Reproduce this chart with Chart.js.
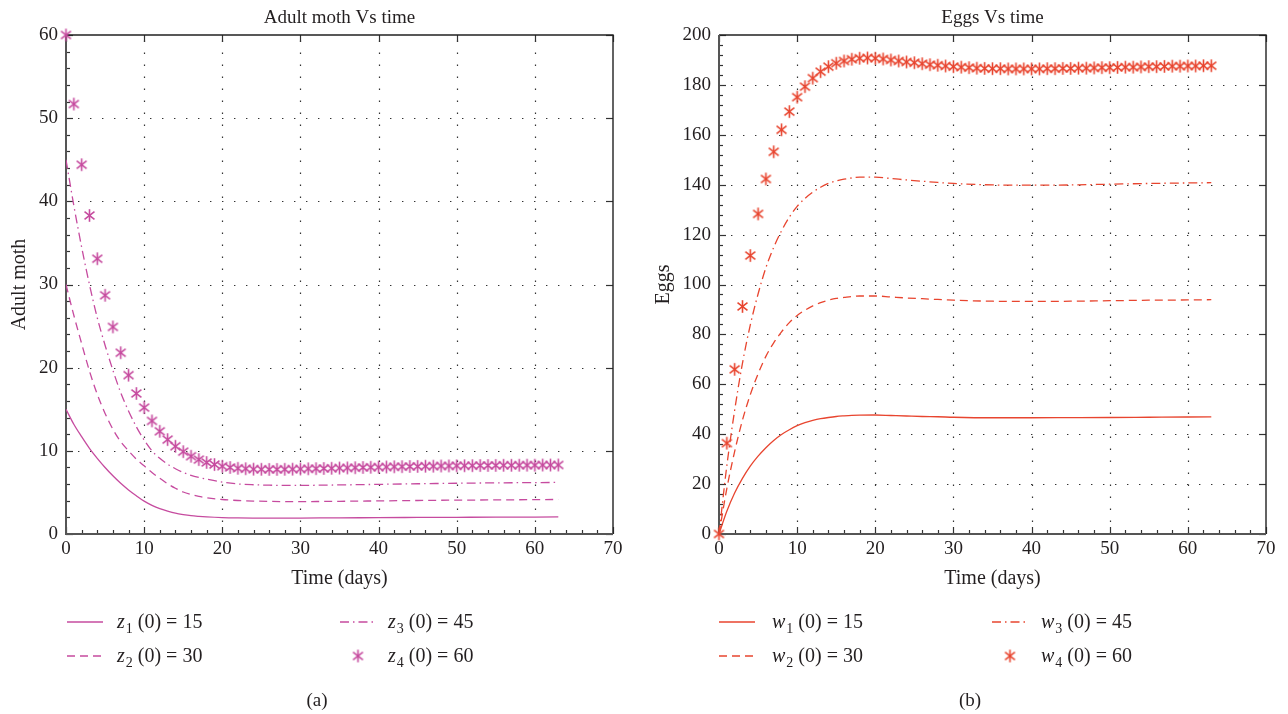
<!DOCTYPE html>
<html>
<head>
<meta charset="utf-8">
<script src="https://cdn.jsdelivr.net/npm/chart.js@4.4.0/dist/chart.umd.min.js"></script>
<style>
  body { margin: 0; background: #fff; width: 1288px; height: 714px; overflow: hidden; }
  .panel { position: absolute; top: 0; width: 644px; height: 714px; }
</style>
</head>
<body>
<div class="panel" style="left:0"><canvas id="mothChart" width="644" height="714"></canvas></div>
<div class="panel" style="left:644px"><canvas id="eggChart" width="644" height="714"></canvas></div>
<script>
// days used for the smooth curves
var lineDays = [0,1,2,3,4,5,6,7,8,9,10,11,12,13,14,15,16,17,18,20,22,24,26,28,30,35,40,45,50,55,60,63];
// days used for the star markers
var starDays = [0,1,2,3,4,5,6,7,8,9,10,11,12,13,14,15,16,17,18,19,20,21,22,23,24,25,26,27,28,29,30,31,
  32,33,34,35,36,37,38,39,40,41,42,43,44,45,46,47,48,49,50,51,52,53,54,55,56,57,58,59,60,61,62,63];

// Adult moth (panel a)
var z1 = [15,13.2,11.7,10.3,9.1,8.0,7.0,6.1,5.3,4.6,3.95,3.45,3.05,2.75,2.5,2.33,2.2,2.12,2.06,1.98,1.94,1.92,1.91,1.91,1.92,1.94,1.97,1.99,2.01,2.03,2.04,2.05];
var z2 = [30,26.3,22.9,19.6,16.8,14.5,12.6,11.1,10.0,9.0,8.2,7.4,6.7,6.05,5.5,5.05,4.75,4.52,4.36,4.15,4.03,3.96,3.92,3.9,3.9,3.93,3.98,4.03,4.07,4.1,4.13,4.15];
var z3 = [45,39.5,34.5,30.0,26.0,22.7,19.7,17.0,14.8,12.9,11.3,10.0,9.1,8.4,7.85,7.4,7.05,6.8,6.6,6.25,6.02,5.92,5.87,5.85,5.85,5.9,5.97,6.04,6.1,6.15,6.18,6.2];
var z4 = [60,51.7,44.4,38.3,33.1,28.7,24.9,21.8,19.1,16.9,
  15.2,13.6,12.35,11.35,10.55,9.9,9.35,8.95,8.6,8.35,
  8.15,8.0,7.9,7.85,7.8,7.78,7.77,7.77,7.78,7.8,
  7.82,7.84,7.86,7.88,7.9,7.93,7.95,7.97,8.0,8.02,
  8.04,8.06,8.08,8.1,8.12,8.13,8.15,8.16,8.18,8.19,
  8.2,8.21,8.22,8.23,8.24,8.25,8.26,8.26,8.27,8.28,
  8.28,8.29,8.29,8.3];

// Eggs (panel b)
var w1 = [0,9.1,16.4,22.3,27.2,31.2,34.6,37.5,39.9,41.8,43.4,44.6,45.5,46.2,46.7,47.1,47.35,47.55,47.65,47.7,47.5,47.3,47.1,47.0,46.8,46.6,46.6,46.65,46.7,46.8,46.9,46.95];
var w2 = [0,18.2,33,45.6,55.8,64.2,71.2,76.6,81,84.7,87.6,89.7,91.4,92.7,93.7,94.4,94.8,95.2,95.4,95.4,95,94.6,94.3,94,93.7,93.3,93.2,93.3,93.5,93.7,93.8,93.9];
var w3 = [0,27.3,49.5,68.4,83.7,96.2,106.7,114.9,121.5,127,131.3,134.5,137,139,140.5,141.5,142.2,142.7,143,143,142.5,141.9,141.4,140.9,140.5,139.9,139.8,139.9,140.2,140.5,140.7,140.8];
var w4 = [0,36.4,66,91.2,111.6,128.3,142.3,153.2,162,169.3,
  175.1,179.3,182.7,185.3,187.3,188.7,189.6,190.3,190.7,190.8,
  190.7,190.4,190.0,189.6,189.2,188.9,188.5,188.1,187.9,187.6,
  187.3,187.1,186.9,186.7,186.6,186.5,186.5,186.4,186.4,186.4,
  186.4,186.4,186.5,186.5,186.6,186.6,186.7,186.7,186.8,186.9,
  186.9,187.0,187.1,187.1,187.2,187.3,187.3,187.4,187.5,187.5,
  187.6,187.6,187.7,187.7];

var initLabels = ['15', '30', '45', '60'];
var xTicks = [0, 10, 20, 30, 40, 50, 60, 70];

var textColor = '#231f20';
var serif = '"Liberation Serif", "DejaVu Serif", serif';
Chart.defaults.font.family = serif;
Chart.defaults.font.size = 19;
Chart.defaults.color = textColor;

function pairs(xs, ys) {
  return xs.map(function (x, i) { return { x: x, y: ys[i] }; });
}

// six-armed asterisk used as marker
function makeStar(color) {
  var c = document.createElement('canvas');
  c.width = 15; c.height = 15;
  var g = c.getContext('2d');
  g.strokeStyle = color;
  g.lineWidth = 1.6;
  [90, 38, 142].forEach(function (deg) {
    var a = deg * Math.PI / 180;
    g.beginPath();
    g.moveTo(7.5 - 6.3 * Math.cos(a), 7.5 - 6.3 * Math.sin(a));
    g.lineTo(7.5 + 6.3 * Math.cos(a), 7.5 + 6.3 * Math.sin(a));
    g.stroke();
  });
  return c;
}

var panelPlugin = {
  id: 'panel',
  beforeDatasetsDraw: function (chart, args, opts) {
    var ctx = chart.ctx, a = chart.chartArea;
    var xs = chart.scales.x, ys = chart.scales.y;
    ctx.save();
    // dotted grid
    ctx.strokeStyle = '#333';
    ctx.lineWidth = 1.2;
    ctx.setLineDash([1.4, 10.6]);
    xs.ticks.forEach(function (t) {
      if (t.value <= xs.min || t.value >= xs.max) return;
      var px = Math.round(xs.getPixelForValue(t.value)) + 0.5;
      ctx.beginPath(); ctx.moveTo(px, a.bottom); ctx.lineTo(px, a.top); ctx.stroke();
    });
    ys.ticks.forEach(function (t) {
      if (t.value <= ys.min || t.value >= ys.max) return;
      var py = Math.round(ys.getPixelForValue(t.value)) + 0.5;
      ctx.beginPath(); ctx.moveTo(a.left, py); ctx.lineTo(a.right, py); ctx.stroke();
    });
    ctx.setLineDash([]);
    // inward tick marks
    ctx.strokeStyle = '#333';
    ctx.lineWidth = 1.2;
    var v, px, py;
    for (v = xs.min; v <= xs.max + 1e-9; v += opts.xMinor) {
      px = Math.round(xs.getPixelForValue(v)) + 0.5;
      var major = Math.abs(v / 10 - Math.round(v / 10)) < 1e-6;
      ctx.beginPath(); ctx.moveTo(px, a.bottom); ctx.lineTo(px, a.bottom - (major ? 7 : 4)); ctx.stroke();
      if (major) { ctx.beginPath(); ctx.moveTo(px, a.top); ctx.lineTo(px, a.top + 7); ctx.stroke(); }
    }
    for (v = ys.min; v <= ys.max + 1e-9; v += opts.yMinor) {
      py = Math.round(ys.getPixelForValue(v)) + 0.5;
      var majorY = Math.abs(v / opts.yStep - Math.round(v / opts.yStep)) < 1e-6;
      ctx.beginPath(); ctx.moveTo(a.left, py); ctx.lineTo(a.left + (majorY ? 7 : 4), py); ctx.stroke();
      if (majorY) { ctx.beginPath(); ctx.moveTo(a.right, py); ctx.lineTo(a.right - 7, py); ctx.stroke(); }
    }
    // frame
    ctx.strokeStyle = '#222';
    ctx.lineWidth = 1.4;
    ctx.beginPath();
    ctx.moveTo(a.left, a.top); ctx.lineTo(a.right, a.top); ctx.lineTo(a.right, a.bottom);
    ctx.stroke();
    ctx.strokeStyle = '#555';
    ctx.lineWidth = 2;
    ctx.beginPath();
    ctx.moveTo(a.left, a.top); ctx.lineTo(a.left, a.bottom); ctx.lineTo(a.right, a.bottom);
    ctx.stroke();
    ctx.restore();
  },
  afterDraw: function (chart, args, opts) {
    var ctx = chart.ctx, a = chart.chartArea;
    ctx.save();
    ctx.fillStyle = textColor;
    // title
    ctx.font = '19px ' + serif;
    ctx.textAlign = 'center';
    ctx.textBaseline = 'alphabetic';
    ctx.fillText(opts.title, (a.left + a.right) / 2, 23);
    // caption
    ctx.fillText(opts.caption, opts.captionX, 706);
    // legend
    ctx.textAlign = 'left';
    chart.data.datasets.forEach(function (ds, i) {
      var col = opts.cols[Math.floor(i / 2)];
      var yy = opts.rows[i % 2];
      if (ds.showLine === false) {
        var img = ds.pointStyle;
        ctx.drawImage(img, col.lineX + 18 - img.width / 2, yy - img.height / 2);
      } else {
        ctx.strokeStyle = ds.borderColor;
        ctx.lineWidth = ds.borderWidth;
        ctx.setLineDash(ds.borderDash || []);
        ctx.beginPath(); ctx.moveTo(col.lineX, yy); ctx.lineTo(col.lineX + 36, yy); ctx.stroke();
        ctx.setLineDash([]);
      }
      var base = yy + 6;
      var tx = col.textX;
      ctx.font = 'italic 20px ' + serif;
      ctx.fillText(opts.symbol, tx, base);
      tx += ctx.measureText(opts.symbol).width + 1;
      ctx.font = '14px ' + serif;
      ctx.fillText(String(i + 1), tx, base + 5);
      tx += ctx.measureText(String(i + 1)).width;
      ctx.font = '20px ' + serif;
      ctx.fillText(' (0) = ' + initLabels[i], tx, base);
    });
    ctx.restore();
  }
};

function buildPanel(id, cfg) {
  var star = makeStar(cfg.color);
  var ctx = document.getElementById(id).getContext('2d');
  return new Chart(ctx, {
    type: 'scatter',
    data: {
      datasets: [
        { data: pairs(lineDays, cfg.s1), showLine: true, borderColor: cfg.color, borderWidth: 1.3, pointRadius: 0, cubicInterpolationMode: 'monotone' },
        { data: pairs(lineDays, cfg.s2), showLine: true, borderColor: cfg.color, borderWidth: 1.3, borderDash: [8, 5], pointRadius: 0, cubicInterpolationMode: 'monotone' },
        { data: pairs(lineDays, cfg.s3), showLine: true, borderColor: cfg.color, borderWidth: 1.3, borderDash: [9, 4, 1.5, 4], pointRadius: 0, cubicInterpolationMode: 'monotone' },
        { data: pairs(starDays, cfg.s4), showLine: false, pointStyle: star, pointRadius: 6, clip: false }
      ]
    },
    options: {
      responsive: false,
      animation: false,
      events: [],
      layout: { padding: { left: 4, top: 35, right: 644 - cfg.plotRight, bottom: 120 } },
      plugins: {
        legend: { display: false },
        tooltip: { enabled: false },
        panel: {
          title: cfg.title, caption: cfg.caption, captionX: cfg.captionX,
          symbol: cfg.symbol, cols: cfg.cols, rows: [622, 656],
          xMinor: 2, yMinor: cfg.yMinor, yStep: cfg.yStep
        }
      },
      scales: {
        x: {
          type: 'linear', min: 0, max: 70,
          afterBuildTicks: function (s) { s.ticks = xTicks.map(function (v) { return { value: v }; }); },
          afterFit: function (s) { s.height = 60; },
          grid: { display: false, drawTicks: false },
          border: { display: false },
          ticks: { padding: 4, maxRotation: 0, autoSkip: false },
          title: { display: true, text: 'Time (days)', font: { size: 20 }, padding: { top: 4, bottom: 3 } }
        },
        y: {
          type: 'linear', min: 0, max: cfg.yMax,
          afterBuildTicks: function (s) { s.ticks = cfg.yTicks.map(function (v) { return { value: v }; }); },
          afterFit: function (s) { s.width = cfg.plotLeft - 4; },
          grid: { display: false, drawTicks: false },
          border: { display: false },
          ticks: { padding: 8, autoSkip: false },
          title: { display: true, text: cfg.yTitle, font: { size: 20 } }
        }
      }
    },
    plugins: [panelPlugin]
  });
}

buildPanel('mothChart', {
  color: '#c64b9f', s1: z1, s2: z2, s3: z3, s4: z4,
  title: 'Adult moth Vs time', yTitle: 'Adult moth', caption: '(a)', captionX: 317,
  symbol: 'z', yMax: 60, yTicks: [0, 10, 20, 30, 40, 50, 60], yMinor: 2, yStep: 10,
  plotLeft: 66, plotRight: 613,
  cols: [{ lineX: 67, textX: 117 }, { lineX: 340, textX: 388 }]
});

buildPanel('eggChart', {
  color: '#e8452f', s1: w1, s2: w2, s3: w3, s4: w4,
  title: 'Eggs Vs time', yTitle: 'Eggs', caption: '(b)', captionX: 326,
  symbol: 'w', yMax: 200, yTicks: [0, 20, 40, 60, 80, 100, 120, 140, 160, 180, 200], yMinor: 4, yStep: 20,
  plotLeft: 75, plotRight: 622,
  cols: [{ lineX: 75, textX: 128 }, { lineX: 348, textX: 397 }]
});
</script>
</body>
</html>
